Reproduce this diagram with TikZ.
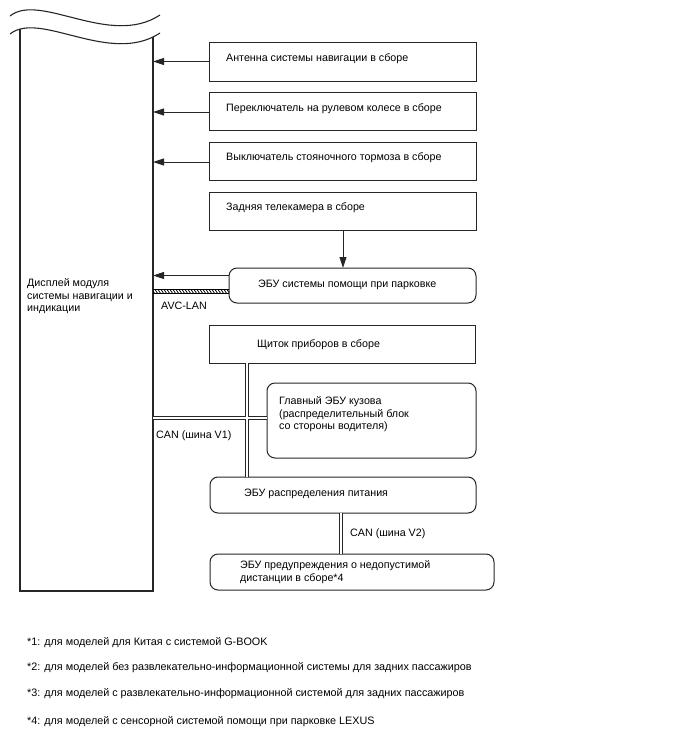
\documentclass[tikz,border=0pt]{standalone}
\usepackage{fontspec}
\setmainfont{Liberation Sans}
\usetikzlibrary{arrows.meta}
\tikzset{
  box/.style={draw=black!85, line width=1pt, anchor=north west, inner sep=0pt, outer sep=0pt},
  rbox/.style={box, rounded corners=8pt},
  txt/.style={anchor=west, yshift=-1.5pt, font=\fontsize{10.7}{12.5}\selectfont, inner sep=0pt, align=left},
  mtxt/.style={anchor=north west, yshift=-1.5pt, font=\fontsize{10.7}{12.5}\selectfont, inner sep=0pt, align=left},
  ftxt/.style={anchor=west, yshift=-1.5pt, font=\fontsize{10.8}{12}\selectfont, inner sep=0pt},
  arr/.style={line width=1pt, draw=black!85, -{Triangle[length=11pt,width=7pt]}},
  bus/.style={double=white, draw=black!85, line width=1.1pt, double distance=2pt},
  edge/.style={line width=1.1pt, draw=black!85}
}
\begin{document}
\begin{tikzpicture}[x=1pt,y=-1pt]
\useasboundingbox[fill=white] (0,0) rectangle (688,755);

% display module (wavy top)
\node[inner sep=0pt, outer sep=0pt, anchor=north west, minimum width=133pt, minimum height=559pt] (disp) at (20,32) {};
\draw[edge] (10,16) .. controls (40,-8) and (110,48) .. (160,15);
\draw[edge] (10,34) .. controls (40,10) and (110,66) .. (160,33);
\draw[edge] (20,29) -- (20,591) -- (153,591) -- (153,37);
\node[mtxt] (disptxt) at (27,277) {Дисплей модуля\\системы навигации и\\индикации};

% right boxes
\node[box, minimum width=267pt, minimum height=39pt] (ant) at (209,42) {};
\node[txt] (anttxt) at (226,57) {Антенна системы навигации в сборе};
\node[box, minimum width=267pt, minimum height=38pt] (sw) at (209,92) {};
\node[txt] (swtxt) at (226,107) {Переключатель на рулевом колесе в сборе};
\node[box, minimum width=267pt, minimum height=38pt] (brk) at (209,142) {};
\node[txt] (brktxt) at (226,156) {Выключатель стояночного тормоза в сборе};
\node[box, minimum width=267pt, minimum height=38pt] (cam) at (209,192) {};
\node[txt] (camtxt) at (226,206) {Задняя телекамера в сборе};
\node[rbox, minimum width=247pt, minimum height=35pt] (park) at (229,268) {};
\node[txt] (parktxt) at (258,283) {ЭБУ системы помощи при парковке};
\node[box, minimum width=266pt, minimum height=38pt] (inst) at (209,325) {};
\node[txt] (insttxt) at (257,343) {Щиток приборов в сборе};
\node[rbox, minimum width=209pt, minimum height=75pt] (body) at (267,383) {};
\node[mtxt] (bodytxt) at (279,395) {Главный ЭБУ кузова\\(распределительный блок\\со стороны водителя)};
\node[rbox, minimum width=266pt, minimum height=36pt] (pwr) at (210,477) {};
\node[txt] (pwrtxt) at (244,492) {ЭБУ распределения питания};
\node[rbox, minimum width=284pt, minimum height=36pt] (dist) at (210,554) {};
\node[mtxt] (disttxt) at (240,559) {ЭБУ предупреждения о недопустимой\\дистанции в сборе*4};

% arrows
\draw[arr] (ant.west) -- (ant.west -| disp.east);
\draw[arr] ([yshift=-1pt]sw.west) -- ([yshift=-1pt]sw.west -| disp.east);
\draw[arr] ([yshift=-1pt]brk.west) -- ([yshift=-1pt]brk.west -| disp.east);
\coordinate (camx) at (343,0);
\draw[arr] (cam.south -| camx) -- (park.north -| camx);
\draw[arr] ([yshift=10pt]park.west) -- ([yshift=10pt]park.west -| disp.east);

% AVC-LAN hatched bus
\coordinate (avcT) at ([yshift=-4pt]park.west);
\coordinate (avcB) at ([yshift=-8pt]park.west);
\begin{scope}
\clip (avcT -| disp.east) rectangle (avcB);
\foreach \x in {148,151,...,232} \draw[line width=0.8pt] (\x,288) -- (\x+4,294);
\end{scope}
\draw[line width=0.9pt] (avcT -| disp.east) -- (avcT) (avcB -| disp.east) -- (avcB);
\node[txt] (avclbl) at (161,304) {AVC-LAN};

% CAN V1
\coordinate (v1x) at (247,418);
\draw[bus] (inst.south -| v1x) -- (pwr.north -| v1x)
           (v1x -| disp.east) -- (v1x -| body.west);
\node[txt] (v1lbl) at (156,434) {CAN (шина V1)};

% CAN V2
\coordinate (v2x) at (341,0);
\draw[bus] (pwr.south -| v2x) -- (dist.north -| v2x);
\node[txt] (v2lbl) at (350,532) {CAN (шина V2)};

% footnotes
\node[ftxt] (f1) at (27,641) {*1: для моделей для Китая с системой G-BOOK};
\node[ftxt] (f2) at (27,666) {*2: для моделей без развлекательно-информационной системы для задних пассажиров};
\node[ftxt] (f3) at (27,692) {*3: для моделей с развлекательно-информационной системой для задних пассажиров};
\node[ftxt] (f4) at (27,720) {*4: для моделей с сенсорной системой помощи при парковке LEXUS};
\end{tikzpicture}
\end{document}
